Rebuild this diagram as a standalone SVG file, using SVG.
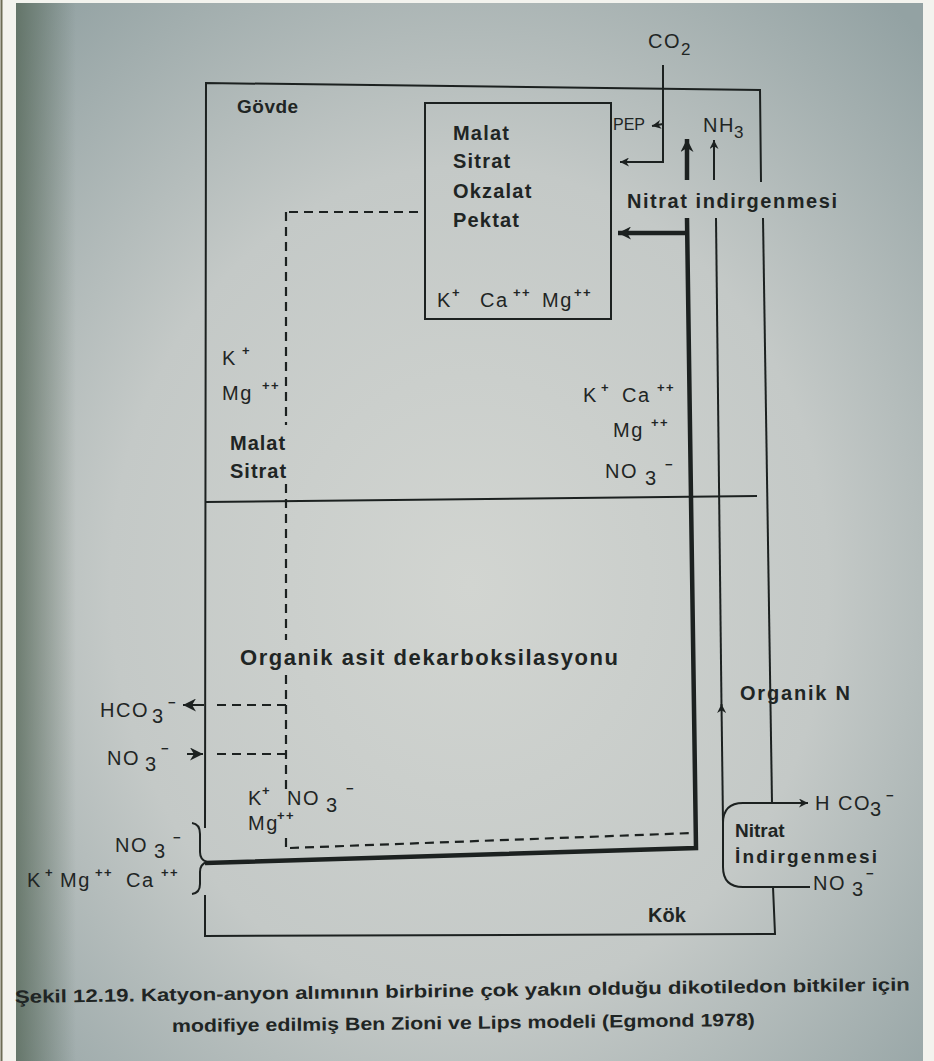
<svg xmlns="http://www.w3.org/2000/svg" width="934" height="1061" viewBox="0 0 934 1061">
<defs>
<radialGradient id="bg" cx="50%" cy="55%" r="72%">
<stop offset="0" stop-color="#d2d5d1"/>
<stop offset="0.55" stop-color="#c4c9c7"/>
<stop offset="1" stop-color="#93a2a3"/>
</radialGradient>
<linearGradient id="lv" x1="0" y1="0" x2="1" y2="0">
<stop offset="0" stop-color="#4f6150" stop-opacity="0.7"/>
<stop offset="1" stop-color="#4f6150" stop-opacity="0"/>
</linearGradient>
<marker id="ah" viewBox="0 0 10 10" refX="10" refY="5" markerWidth="11" markerHeight="9" markerUnits="userSpaceOnUse" orient="auto"><path d="M0,0 L10,5 L0,10 L3,5 Z" fill="#1c2120"/></marker>
<marker id="ahb" viewBox="0 0 10 10" refX="10" refY="5" markerWidth="14" markerHeight="13" markerUnits="userSpaceOnUse" orient="auto"><path d="M0,0 L10,5 L0,10 L3,5 Z" fill="#1c2120"/></marker>
<style>
.t{font-family:"Liberation Sans",Arial,sans-serif;fill:#1f2524}
.b{font-weight:bold}
.f{font-size:20px;letter-spacing:1.5px}
.sp{font-size:13px;font-weight:bold}
.ln{stroke:#1c2120;stroke-width:2;fill:none}
.tk{stroke:#1c2120;stroke-width:4.5;fill:none}
.ds{stroke:#1c2120;stroke-width:2.2;fill:none;stroke-dasharray:9 6}
</style>
</defs>
<rect width="934" height="1061" fill="#f3f3ee"/>
<rect x="16" y="3" width="907" height="1058" fill="url(#bg)"/>
<rect x="16" y="3" width="60" height="1058" fill="url(#lv)"/>
<line x1="1.5" y1="0" x2="1.5" y2="1061" stroke="#6d6c55" stroke-width="2"/>

<g id="outer-box">
<polyline class="ln" points="205,828 206,83 760,90 761,182"/>
<line class="ln" x1="763" y1="218" x2="772" y2="803"/>
<polyline class="ln" points="773,887 775,934 205,936 205,895"/>
<line class="ln" x1="205" y1="502" x2="757" y2="496"/>
<text class="t b" x="237" y="113" font-size="19" letter-spacing="0.5">Gövde</text>
<text class="t b" x="648" y="922" font-size="20">Kök</text>
</g>

<g id="vacuole">
<rect x="425" y="103" width="186" height="216" class="ln"/>
<text class="t b" font-size="20" letter-spacing="1.2"><tspan x="453" y="140">Malat</tspan><tspan x="453" y="168">Sitrat</tspan><tspan x="453" y="198">Okzalat</tspan><tspan x="453" y="227">Pektat</tspan></text>
<text class="t f" font-size="18"><tspan x="437" y="307">K</tspan><tspan class="sp" x="452" y="297">+</tspan><tspan x="480" y="307">Ca</tspan><tspan class="sp" x="513" y="297">++</tspan><tspan x="542" y="307">Mg</tspan><tspan class="sp" x="574" y="297">++</tspan></text>
</g>

<g id="co2">
<text class="t f" font-size="19"><tspan x="648" y="48">CO</tspan><tspan x="681" y="55" font-size="17">2</tspan></text>
<text class="t" x="613" y="130" font-size="16">PEP</text>
</g>

<g id="nh3">
<text class="t f" font-size="18"><tspan x="703" y="132">NH</tspan><tspan x="734" y="138" font-size="17">3</tspan></text>
</g>

<g id="nitrat-shoot">
<text class="t b" x="627" y="208" font-size="20" textLength="210" lengthAdjust="spacing">Nitrat indirgenmesi</text>
</g>

<g id="shoot-ions">
<text class="t f"><tspan x="222" y="365">K</tspan><tspan class="sp" x="242" y="355">+</tspan><tspan x="222" y="400">Mg</tspan><tspan class="sp" x="262" y="390">++</tspan></text>
<text class="t b" font-size="20" letter-spacing="1"><tspan x="230" y="450">Malat</tspan><tspan x="230" y="478">Sitrat</tspan></text>
<text class="t f"><tspan x="583" y="402">K</tspan><tspan class="sp" x="601" y="392">+</tspan><tspan x="622" y="402">Ca</tspan><tspan class="sp" x="657" y="392">++</tspan><tspan x="613" y="437">Mg</tspan><tspan class="sp" x="651" y="427">++</tspan><tspan x="605" y="478">NO</tspan><tspan x="645" y="485">3</tspan><tspan class="sp" x="665" y="469">−</tspan></text>
</g>

<g id="dekarboksilasyon">
<text class="t b" x="240" y="665" font-size="22" textLength="378" lengthAdjust="spacing">Organik asit dekarboksilasyonu</text>
</g>

<g id="root-ions">
<text class="t f"><tspan x="100" y="717">HCO</tspan><tspan x="152" y="723">3</tspan><tspan class="sp" x="168" y="707">−</tspan>
<tspan x="107" y="765">NO</tspan><tspan x="145" y="771">3</tspan><tspan class="sp" x="161" y="753">−</tspan>
<tspan x="248" y="805">K</tspan><tspan class="sp" x="262" y="795">+</tspan><tspan x="287" y="805">NO</tspan><tspan x="326" y="812">3</tspan><tspan class="sp" x="346" y="793">−</tspan>
<tspan x="248" y="830">Mg</tspan><tspan class="sp" x="277" y="820">++</tspan>
<tspan x="115" y="852">NO</tspan><tspan x="154" y="858">3</tspan><tspan class="sp" x="173" y="842">−</tspan>
<tspan x="27" y="887">K</tspan><tspan class="sp" x="45" y="877">+</tspan><tspan x="60" y="887">Mg</tspan><tspan class="sp" x="95" y="877">++</tspan><tspan x="126" y="887">Ca</tspan><tspan class="sp" x="161" y="877">++</tspan></text>
</g>

<g id="nitrat-root">
<text class="t b" x="740" y="700" font-size="20" textLength="110" lengthAdjust="spacing">Organik N</text>
<text class="t b" font-size="19"><tspan x="735" y="837">Nitrat</tspan><tspan x="735" y="863" textLength="142" lengthAdjust="spacing">İndirgenmesi</tspan></text>
<text class="t f"><tspan x="815" y="810">H</tspan><tspan x="838" y="810">CO</tspan><tspan x="870" y="816">3</tspan><tspan class="sp" x="886" y="800">−</tspan>
<tspan x="813" y="890">NO</tspan><tspan x="852" y="896">3</tspan><tspan class="sp" x="866" y="878">−</tspan></text>
</g>

<g id="connectors">
<polyline class="ln" points="663,65 663,162 620,162" marker-end="url(#ah)"/>
<line class="ln" x1="663" y1="124" x2="652" y2="126" marker-end="url(#ah)" stroke-width="1.5"/>
<line class="tk" x1="687" y1="180" x2="687" y2="139" marker-end="url(#ahb)"/>
<line class="ln" x1="714" y1="180" x2="714" y2="140" marker-end="url(#ah)"/>
<polyline class="tk" points="205,863 696,848 687,218"/>
<line class="tk" x1="687" y1="233" x2="618" y2="233" marker-end="url(#ahb)"/>
<line class="ln" x1="716" y1="218" x2="721.5" y2="706"/>
<line class="ln" x1="723" y1="823" x2="721.5" y2="704" marker-end="url(#ah)"/>
<path class="ln" d="M723,823 Q723,803 743,803 L808,803" marker-end="url(#ah)"/>
<path class="ln" d="M723,820 L723,867 Q723,887 743,887 L810,887"/>
<path class="ln" d="M192,823 Q200,824 200,834 L200,852 Q200,860 207,862 Q200,864 200,872 L200,884 Q200,893 192,894" stroke-width="2.2"/>
<line class="ds" x1="418" y1="212" x2="288" y2="212"/>
<line class="ds" x1="286" y1="212" x2="286" y2="425"/>
<line class="ds" x1="286" y1="484" x2="286" y2="640"/>
<line class="ds" x1="286" y1="675" x2="286" y2="790"/>
<line class="ds" x1="286" y1="838" x2="286" y2="848"/>
<line class="ds" x1="290" y1="848" x2="693" y2="833"/>
<line class="ds" x1="286" y1="705" x2="212" y2="705"/>
<line class="ds" x1="286" y1="754" x2="212" y2="754"/>
<line class="ln" x1="204" y1="705" x2="183" y2="705" marker-end="url(#ahb)" stroke-width="1"/>
<line class="ln" x1="187" y1="754" x2="203" y2="754" marker-end="url(#ahb)" stroke-width="1"/>
</g>

<g id="caption">
<text class="t b" font-family="Liberation Sans Narrow, Liberation Sans, sans-serif" font-size="18" transform="rotate(-0.8 15 1003)"><tspan x="15" y="1003" textLength="895" lengthAdjust="spacingAndGlyphs">Şekil 12.19. Katyon-anyon alımının birbirine çok yakın olduğu dikotiledon bitkiler için</tspan></text>
<text class="t b" font-family="Liberation Sans Narrow, Liberation Sans, sans-serif" font-size="18" transform="rotate(-0.6 172 1032)"><tspan x="172" y="1032" textLength="583" lengthAdjust="spacingAndGlyphs">modifiye edilmiş Ben  Zioni ve Lips modeli (Egmond 1978)</tspan></text>
</g>
</svg>
